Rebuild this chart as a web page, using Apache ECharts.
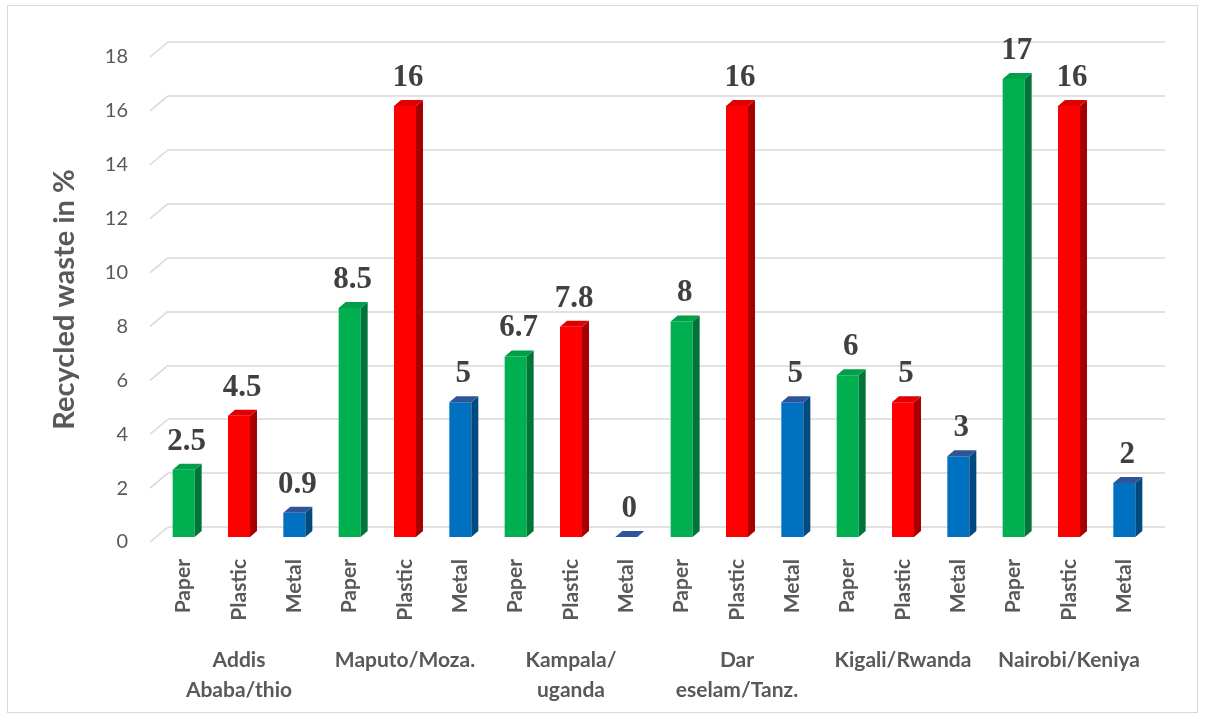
<!DOCTYPE html>
<html>
<head>
<meta charset="utf-8">
<script src="https://cdn.jsdelivr.net/npm/echarts@6/dist/echarts.min.js"></script>
<style>
	html, body { margin: 0; padding: 0; background: #fff; }
	#chart { width: 1206px; height: 719px; }
	#frame { position: absolute; left: 7px; top: 5px; width: 1189px; height: 706px; border: 1px solid #d9d9d9; pointer-events: none; }
</style>
</head>
<body>
<div id="chart"></div>
<div id="frame"></div>
<script>
	// 数据
	var cities = ['Addis\nAbaba/thio', 'Maputo/Moza.', 'Kampala/\nuganda', 'Dar\neselam/Tanz.', 'Kigali/Rwanda', 'Nairobi/Keniya'];
	var materials = ['Paper', 'Plastic', 'Metal'];
	var paper = [2.5, 8.5, 6.7, 8, 6, 17];
	var plastic = [4.5, 16, 7.8, 16, 5, 16];
	var metal = [0.9, 5, 0, 5, 3, 2];
	var yTicks = [0, 2, 4, 6, 8, 10, 12, 14, 16, 18];

	var faceColors = [
		{ front: '#00B050', side: '#00753A', top: '#00A048' },
		{ front: '#FF0000', side: '#A60000', top: '#E00000' },
		{ front: '#0070C0', side: '#004A80', top: '#2F5597' }
	];

	var labelArr = [];
	var barArr = [];
	var series3 = [paper, plastic, metal];
	for (var c = 0; c < cities.length; c++) {
		for (var m = 0; m < materials.length; m++) {
			labelArr.push(materials[m]);
			barArr.push([c * 3 + m, series3[m][c], m]);
		}
	}

	var DX = 7, DY = 6, HALF = 11;

	function renderBar(params, api) {
		var idx = api.value(0);
		var val = api.value(1);
		var col = faceColors[api.value(2)];
		var p = api.coord([idx, val]);
		var p0 = api.coord([idx, 0]);
		var x = p[0], y = p[1], yb = p0[1];
		var children = [];
		if (val > 0) {
			children.push({
				type: 'rect',
				shape: { x: x - HALF, y: y, width: HALF * 2, height: yb - y },
				style: { fill: col.front }
			});
			children.push({
				type: 'polygon',
				shape: { points: [[x + HALF, y], [x + HALF + DX, y - DY], [x + HALF + DX, yb - DY], [x + HALF, yb]] },
				style: { fill: col.side }
			});
		}
		children.push({
			type: 'polygon',
			shape: { points: [[x - HALF, y], [x - HALF + DX, y - DY], [x + HALF + DX, y - DY], [x + HALF, y]] },
			style: { fill: val > 0 ? col.top : '#2F5597' }
		});
		children.push({
			type: 'text',
			style: {
				x: x + 3, y: y - 28,
				text: String(val),
				fill: '#404040',
				font: 'bold 31px "Liberation Serif", serif',
				align: 'center', verticalAlign: 'middle'
			}
		});
		return { type: 'group', children: children };
	}

	// 左侧斜线 (3D 墙面)
	function renderDiag(params, api) {
		var v = api.value(1);
		var p = api.coord([0, v]);
		var x0 = params.coordSys.x;
		return {
			type: 'line',
			shape: { x1: x0, y1: p[1], x2: x0 + 18, y2: p[1] - 15 },
			style: { stroke: '#d9d9d9', lineWidth: 1.5 }
		};
	}

	var myChart = echarts.init(document.getElementById('chart'));
	myChart.setOption({
		animation: false,
		grid: [
			{ left: 168, right: 41, top: 42, height: 485 },   // 背面 (网格线)
			{ left: 156, right: 54, top: 52, height: 485 },   // 柱子
			{ left: 150, right: 41, top: 57, height: 485 }    // 前面 (刻度)
		],
		xAxis: [
			{ type: 'category', gridIndex: 0, data: labelArr, show: false },
			{
				type: 'category', gridIndex: 1, data: labelArr,
				axisLine: { show: false }, axisTick: { show: false },
				axisLabel: {
					rotate: 90, interval: 0, margin: 22,
					color: '#595959', fontFamily: 'Lato', fontWeight: 'bold', fontSize: 21
				}
			},
			{
				type: 'category', gridIndex: 1, data: cities, position: 'bottom',
				axisLine: { show: false }, axisTick: { show: false },
				axisLabel: {
					interval: 0, margin: 108, lineHeight: 30, verticalAlign: 'top',
					color: '#595959', fontFamily: 'Lato', fontWeight: 'bold', fontSize: 21
				}
			},
			{ type: 'category', gridIndex: 2, data: [0], show: false }
		],
		yAxis: [
			{
				type: 'value', gridIndex: 0, min: 0, max: 18, interval: 2,
				axisLine: { show: false }, axisTick: { show: false }, axisLabel: { show: false },
				splitLine: { lineStyle: { color: '#d9d9d9', width: 1.5 } }
			},
			{
				type: 'value', gridIndex: 1, min: 0, max: 18, interval: 2,
				axisLine: { show: false }, axisTick: { show: false }, axisLabel: { show: false },
				splitLine: { show: false }
			},
			{
				type: 'value', gridIndex: 2, min: 0, max: 18, interval: 2,
				name: 'Recycled waste in %', nameLocation: 'middle', nameGap: 71,
				nameTextStyle: { color: '#595959', fontFamily: 'Lato', fontWeight: 'bold', fontSize: 29 },
				axisLine: { show: false }, axisTick: { show: false },
				splitLine: { show: false },
				axisLabel: { margin: 22, color: '#595959', fontFamily: 'Lato', fontSize: 20 }
			}
		],
		series: [
			{
				type: 'custom', xAxisIndex: 3, yAxisIndex: 2,
				data: yTicks.map(function (v) { return [0, v]; }),
				renderItem: renderDiag, silent: true
			},
			{
				type: 'custom', xAxisIndex: 1, yAxisIndex: 1,
				data: barArr,
				encode: { x: 0, y: 1 },
				renderItem: renderBar
			}
		]
	});
</script>
</body>
</html>
